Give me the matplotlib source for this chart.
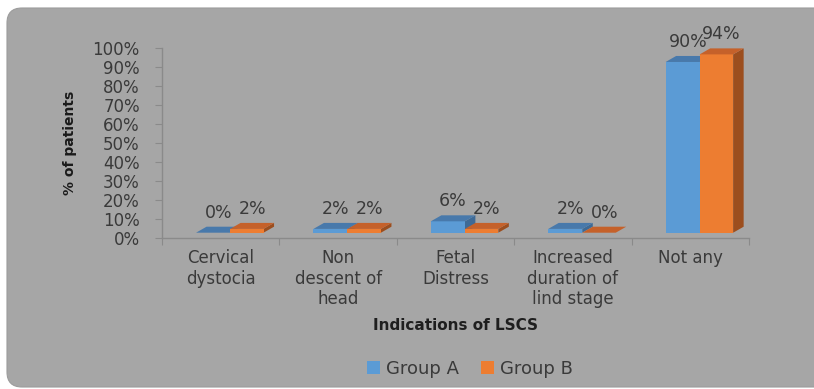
import matplotlib
matplotlib.use("Agg")
import matplotlib.pyplot as plt
from matplotlib.patches import Polygon, FancyBboxPatch, Patch
import numpy as np

categories = ["Cervical\ndystocia", "Non\ndescent of\nhead", "Fetal\nDistress",
              "Increased\nduration of\nlind stage", "Not any"]
group_a = [0, 2, 6, 2, 90]
group_b = [2, 2, 2, 0, 94]
series_names = ["Group A", "Group B"]
y_ticks = [0, 10, 20, 30, 40, 50, 60, 70, 80, 90, 100]

W, H = 814, 389
fig = plt.figure(figsize=(W / 100, H / 100), dpi=100, facecolor="white")

# rounded grey chart area
frame = FancyBboxPatch((7, 2), W + 40, H - 10, boxstyle="round,pad=0,rounding_size=15",
                       transform=None, facecolor="#a6a6a6", edgecolor="#9c9c9c", lw=0.8,
                       zorder=-5)
fig.patches.append(frame)

# plot area (pixel placement)
left, right, top, bottom = 162, 749, 48, 237.7
ax = fig.add_axes([left / W, 1 - bottom / H, (right - left) / W, (bottom - top) / H])
ax.set_facecolor("none")
ax.set_xlim(0, len(categories))
ax.set_ylim(0, 100)
for s in ["top", "right"]:
    ax.spines[s].set_visible(False)
for s in ["left", "bottom"]:
    ax.spines[s].set_color("#8a8a8a")
    ax.spines[s].set_linewidth(1.0)

ax.set_yticks(y_ticks)
ax.set_yticklabels([f"{t}%" for t in y_ticks], fontsize=12, color="#3a3a3a")
ax.tick_params(axis="y", length=5, color="#8a8a8a", pad=11)
ax.set_xticks(np.arange(len(categories) + 1))
ax.set_xticklabels([])
ax.tick_params(axis="x", which="major", length=5, color="#8a8a8a")
ax.set_xticks(np.arange(len(categories)) + 0.5, minor=True)
ax.set_xticklabels(categories, minor=True, fontsize=12, color="#3a3a3a", linespacing=1.2)
ax.tick_params(axis="x", which="minor", length=0, pad=8)

ax.set_xlabel("Indications of LSCS", fontsize=11, fontweight="bold", color="#1f1f1f", labelpad=7)
ax.set_ylabel("% of patients", fontsize=10, fontweight="bold", color="#1a1a1a", labelpad=11)

# 3-D bar geometry (pixels)
lift = 5.0      # front face sits slightly above the axis line
depth_x, depth_y = 10.5, 6.0
bar_edges = [(-0.21, 0.08), (0.08, 0.365)]
colors = [
    {"front": "#5b9bd5", "top": "#4879ab", "side": "#3e6a96"},
    {"front": "#ed7d31", "top": "#c5612a", "side": "#9c4e1e"},
]

fig.canvas.draw()


def px(x, y, dx=0.0, dy=0.0):
    p = ax.transData.transform((x, y))
    return (p[0] + dx, p[1] + lift + dy)


for i in range(len(categories)):
    c = i + 0.5
    for k, vals in enumerate([group_a, group_b]):
        v = vals[i]
        x0, x1 = c + bar_edges[k][0], c + bar_edges[k][1]
        col = colors[k]
        front = [px(x0, 0), px(x1, 0), px(x1, v), px(x0, v)]
        topf = [px(x0, v), px(x1, v), px(x1, v, depth_x, depth_y), px(x0, v, depth_x, depth_y)]
        side = [px(x1, 0), px(x1, 0, depth_x, depth_y), px(x1, v, depth_x, depth_y), px(x1, v)]
        for pts, fc in [(side, col["side"]), (front, col["front"]), (topf, col["top"])]:
            ax.add_patch(Polygon(pts, closed=True, transform=None, facecolor=fc,
                                 edgecolor="none", clip_on=False))
        lx, ly = px((x0 + x1) / 2, v, depth_x / 2, depth_y + 5)
        ax.text(lx, ly, f"{v}%", transform=None, ha="center", va="bottom",
                fontsize=12.5, color="#3a3a3a")

handles = [Patch(facecolor=colors[0]["front"]), Patch(facecolor=colors[1]["front"])]
fig.legend(handles, series_names, loc="center", bbox_to_anchor=(470 / W, 1 - 369 / H),
           ncol=2, frameon=False, fontsize=13, handlelength=0.7, handleheight=0.7,
           handletextpad=0.35, columnspacing=1.2, labelcolor="#3a3a3a")

fig.savefig("out.png", dpi=100, facecolor="white")
